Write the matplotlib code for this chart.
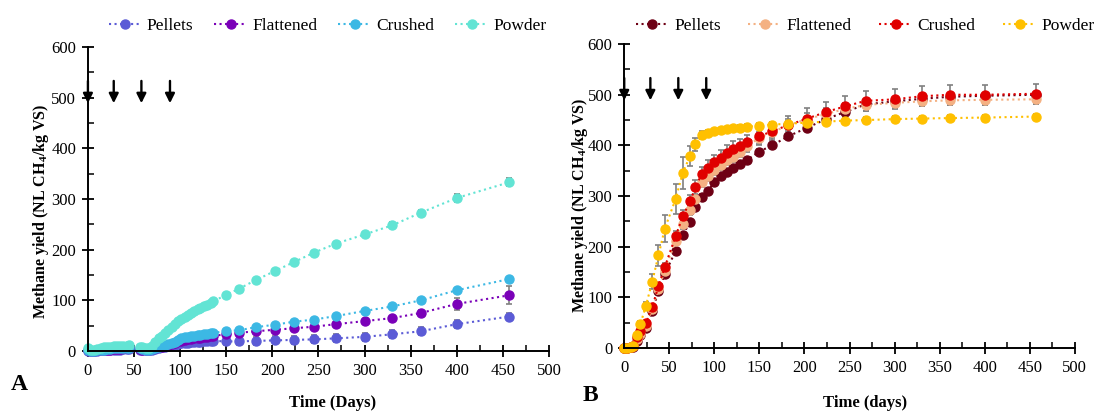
import matplotlib
matplotlib.use('Agg')
import matplotlib.pyplot as plt
from matplotlib.lines import Line2D
from matplotlib.ticker import MultipleLocator

plt.rcParams['font.family'] = ['Liberation Serif', 'DejaVu Serif']
plt.rcParams['mathtext.fontset'] = 'custom'
plt.rcParams['mathtext.rm'] = 'Liberation Serif'
plt.rcParams['mathtext.bf'] = 'Liberation Serif:bold'

series_names = ['Pellets', 'Flattened', 'Crushed', 'Powder']

# ---- panel A ----
t_a = [0, 3, 7, 10, 14, 17, 21, 24, 28, 31, 35, 38, 42, 45, 56, 59, 63, 66, 70, 73,
       77, 80, 84, 87, 91, 94, 98, 101, 105, 108, 112, 115, 119, 122, 126, 129, 133, 136,
       150, 164, 182, 203, 224, 245, 269, 300, 330, 361, 400, 457]
pellets_a = [1, 1, 1, 1, 2, 2, 2, 3, 3, 3, 3, 4, 4, 4, 3, 3, 2, 2, 3, 4,
             5, 7, 8, 10, 11, 12, 14, 15, 16, 16, 17, 17, 18, 18, 19, 19, 19, 20,
             19, 19, 20, 21, 22, 23, 25, 28, 33, 39, 53, 68]
flattened_a = [2, 1, 1, 2, 2, 3, 3, 3, 4, 4, 4, 5, 5, 5, 4, 3, 3, 3, 4, 5,
               7, 8, 10, 12, 14, 16, 19, 20, 22, 23, 24, 25, 26, 26, 27, 28, 29, 30,
               33, 36, 39, 42, 45, 48, 53, 59, 65, 75, 93, 110]
crushed_a = [3, 1, 1, 2, 3, 3, 4, 4, 5, 5, 5, 6, 6, 6, 5, 4, 3, 3, 4, 5,
             7, 9, 11, 13, 16, 18, 22, 25, 27, 28, 29, 30, 31, 32, 33, 34, 35, 36,
             39, 41, 47, 52, 58, 62, 69, 79, 88, 100, 120, 142]
powder_a = [5, 2, 3, 4, 6, 7, 8, 8, 9, 9, 10, 10, 10, 11, 8, 7, 6, 5, 9, 17,
            25, 30, 36, 41, 48, 54, 60, 63, 68, 72, 76, 79, 82, 85, 88, 91, 95, 98,
            111, 123, 140, 158, 176, 194, 212, 230, 248, 273, 302, 333]
pellets_a_err = [1, 1, 1, 1, 1, 1, 1, 1, 1, 1, 1, 1, 1, 1, 1, 1, 1, 1, 2, 2,
                 2, 3, 3, 4, 4, 5, 5, 6, 6, 6, 6, 7, 7, 7, 7, 7, 7, 7,
                 7, 8, 8, 8, 8, 8, 8, 8, 8, 8, 8, 7]
flattened_a_err = [1, 1, 1, 1, 1, 1, 1, 1, 1, 1, 1, 1, 1, 1, 1, 1, 1, 1, 1, 2,
                   2, 2, 3, 3, 3, 3, 3, 4, 4, 4, 4, 4, 4, 4, 4, 4, 4, 4,
                   4, 4, 4, 4, 5, 5, 5, 5, 5, 6, 12, 18]
crushed_a_err = [1, 1, 1, 1, 1, 1, 1, 1, 1, 1, 1, 1, 1, 1, 1, 1, 1, 1, 1, 1,
                 1, 1, 2, 2, 2, 2, 2, 2, 2, 2, 2, 2, 2, 2, 2, 2, 2, 2,
                 2, 2, 2, 2, 3, 3, 3, 3, 3, 3, 3, 3]
powder_a_err = [1, 1, 1, 1, 1, 1, 1, 1, 1, 1, 1, 1, 1, 1, 1, 1, 1, 1, 1, 2,
                2, 2, 2, 2, 2, 2, 2, 2, 2, 2, 2, 2, 2, 2, 2, 2, 2, 2,
                3, 3, 3, 3, 3, 4, 4, 5, 6, 6, 7, 8]
arrows_a = [0, 28, 58, 89]

# ---- panel B ----
t_b = [0, 3, 7, 10, 14, 18, 24, 31, 38, 45, 57, 65, 73, 79, 86, 93, 100, 107, 114, 121,
       128, 136, 150, 164, 182, 203, 224, 245, 268, 300, 330, 361, 400, 457]
pellets_b = [0, 0, 2, 3, 15, 26, 40, 73, 112, 146, 192, 223, 249, 278, 299, 310, 328, 340, 348, 355,
             363, 371, 388, 400, 418, 435, 452, 466, 481, 487, 492, 496, 498, 500]
flattened_b = [0, 1, 2, 4, 18, 28, 44, 77, 116, 153, 212, 245, 272, 294, 328, 340, 351, 362, 371, 378,
               387, 398, 415, 426, 440, 452, 462, 472, 480, 484, 487, 489, 490, 491]
crushed_b = [0, 1, 3, 5, 21, 33, 49, 81, 122, 160, 221, 260, 290, 317, 344, 356, 367, 376, 386, 393,
             398, 406, 418, 428, 440, 453, 466, 477, 488, 491, 497, 500, 500, 502]
powder_b = [0, 1, 3, 5, 25, 48, 83, 131, 183, 236, 294, 346, 379, 402, 420, 425, 428, 430, 432, 434,
            435, 437, 439, 441, 443, 445, 447, 449, 450, 452, 453, 454, 455, 457]
pellets_b_err = [1, 1, 1, 1, 2, 2, 3, 3, 4, 4, 5, 5, 5, 5, 5, 5, 5, 5, 5, 5,
                 5, 5, 5, 5, 5, 5, 5, 5, 5, 5, 5, 5, 5, 5]
flattened_b_err = [1, 1, 1, 1, 2, 3, 4, 5, 6, 7, 8, 9, 10, 10, 10, 10, 10, 10, 10, 10,
                   10, 10, 12, 12, 12, 12, 12, 12, 12, 10, 10, 10, 10, 10]
crushed_b_err = [1, 1, 1, 1, 2, 3, 4, 5, 6, 8, 10, 12, 12, 14, 14, 15, 15, 15, 15, 15,
                 15, 15, 18, 18, 18, 20, 20, 21, 20, 20, 20, 20, 20, 20]
powder_b_err = [1, 1, 1, 2, 5, 6, 8, 15, 20, 26, 30, 31, 20, 12, 8, 6, 5, 5, 5, 5,
                5, 5, 6, 6, 6, 6, 6, 6, 6, 6, 6, 6, 6, 6]
arrows_b = [0, 29, 60, 91]

colors_a = ['#5b5bd6', '#7a00b8', '#3cb8e4', '#62e4d4']
colors_b = ['#6e0014', '#f4b183', '#e00000', '#ffc000']


def style_axis(ax):
    ax.spines['top'].set_visible(False)
    ax.spines['right'].set_visible(False)
    ax.spines['left'].set_linewidth(1.4)
    ax.spines['bottom'].set_linewidth(1.4)
    ax.set_xlim(0, 500)
    ax.set_ylim(0, 600)
    ax.xaxis.set_major_locator(MultipleLocator(50))
    ax.xaxis.set_minor_locator(MultipleLocator(25))
    ax.yaxis.set_major_locator(MultipleLocator(100))
    ax.yaxis.set_minor_locator(MultipleLocator(50))
    ax.tick_params(which='major', direction='inout', length=9, width=1.3, labelsize=12, pad=4)
    ax.tick_params(which='minor', direction='in', length=4, width=1.1)


def draw_panel(ax, t, ys, errs, colors, arrows, xlabel):
    for y, e, c in zip(ys, errs, colors):
        ax.errorbar(t, y, yerr=e, fmt='o', ls=':', lw=1.5, color=c, ms=6.5,
                    ecolor='#808080', elinewidth=1.2, capsize=2.5, capthick=1.2,
                    clip_on=False)
    for d in arrows:
        ax.annotate('', xy=(d, 489), xytext=(d, 533),
                    arrowprops=dict(arrowstyle='-|>', color='k', lw=1.7,
                                    mutation_scale=14, shrinkA=0, shrinkB=0),
                    annotation_clip=False)
    style_axis(ax)
    ax.set_ylabel('Methane yield (NL CH$_\\mathbf{4}$/kg VS)', fontsize=11.5, fontweight='bold')
    ax.set_xlabel(xlabel, fontsize=12, fontweight='bold')
    handles = [Line2D([0], [0], color=c, ls=':', lw=1.5, marker='o', ms=6.5)
               for c in colors]
    return handles


fig = plt.figure(figsize=(10.99, 4.12), dpi=100)
ax_a = fig.add_axes([0.080, 0.148, 0.4195, 0.738])
ax_b = fig.add_axes([0.568, 0.155, 0.410, 0.738])

h_a = draw_panel(ax_a, t_a, [pellets_a, flattened_a, crushed_a, powder_a],
                 [pellets_a_err, flattened_a_err, crushed_a_err, powder_a_err],
                 colors_a, arrows_a, 'Time (Days)')
h_b = draw_panel(ax_b, t_b, [pellets_b, flattened_b, crushed_b, powder_b],
                 [pellets_b_err, flattened_b_err, crushed_b_err, powder_b_err],
                 colors_b, arrows_b, 'Time (days)')

ax_a.legend(h_a, series_names, loc='center', bbox_to_anchor=(0.52, 1.07), ncol=4,
            frameon=False, fontsize=12.5, handlelength=1.9, columnspacing=1.2, handletextpad=0.3)
ax_b.legend(h_b, series_names, loc='center', bbox_to_anchor=(0.535, 1.06), ncol=4,
            frameon=False, fontsize=12.5, handlelength=1.9, columnspacing=1.6, handletextpad=0.3)

ax_a.xaxis.set_label_coords(0.53, -0.145)
ax_b.xaxis.set_label_coords(0.534, -0.155)
ax_a.yaxis.set_label_coords(-0.08, 0.46)
ax_b.yaxis.set_label_coords(-0.077, 0.47)

fig.text(0.010, 0.066, 'A', fontsize=17, fontweight='bold', va='center')
fig.text(0.530, 0.040, 'B', fontsize=17, fontweight='bold', va='center')

fig.savefig('out.png', dpi=100)
